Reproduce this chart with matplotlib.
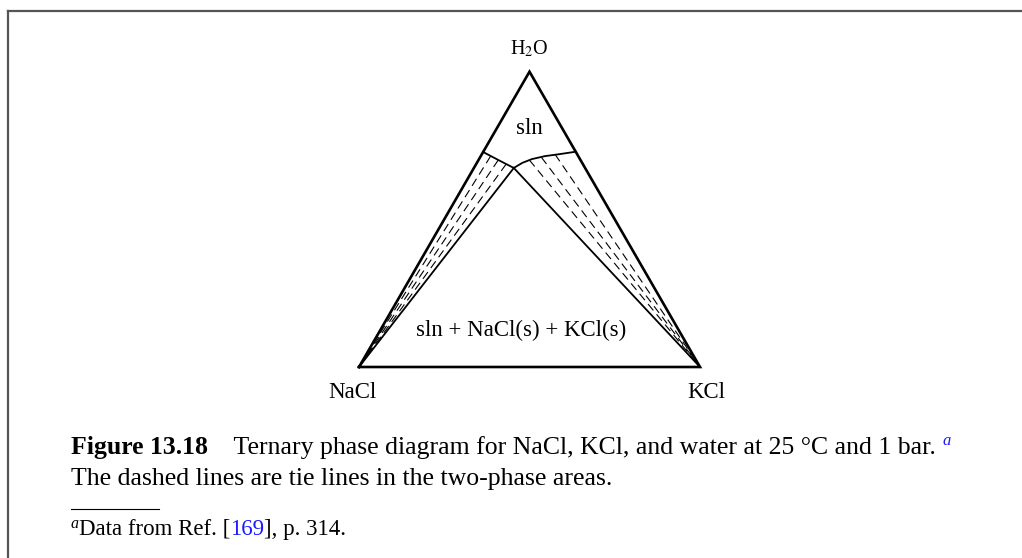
import numpy as np
import matplotlib
matplotlib.use('Agg')
import matplotlib.pyplot as plt
from matplotlib.lines import Line2D

plt.rcParams['font.family'] = ['Liberation Serif', 'DejaVu Serif']
plt.rcParams['mathtext.fontset'] = 'stix'

# mass fractions along the saturation curves (water is the remainder)
# NaCl-saturated solution: from binary NaCl-H2O to the invariant point
nacl_curve_wNaCl = [0.272, 0.241, 0.209]
nacl_curve_wKCl = [0.0, 0.058, 0.117]
# KCl-saturated solution: from the invariant point to binary KCl-H2O
kcl_curve_wNaCl = [0.209, 0.176, 0.141, 0.098, 0.050, 0.0]
kcl_curve_wKCl = [0.117, 0.133, 0.155, 0.188, 0.229, 0.271]
# liquid ends of the tie lines
tie_nacl_wNaCl = [0.257, 0.241, 0.225]
tie_nacl_wKCl = [0.029, 0.058, 0.088]
tie_kcl_wNaCl = [0.150, 0.110, 0.065]
tie_kcl_wKCl = [0.149, 0.180, 0.215]

vertex_labels = ['NaCl', 'KCl', r'H$_2$O']


def tern(wNaCl, wKCl):
    wNaCl = np.asarray(wNaCl, float)
    wKCl = np.asarray(wKCl, float)
    wH2O = 1 - wNaCl - wKCl
    return wKCl + wH2O / 2, wH2O * np.sqrt(3) / 2


W, H = 1022, 558
fig = plt.figure(figsize=(W / 100, H / 100), dpi=100)
ax = fig.add_axes([0, 0, 1, 1])
ax.axis('off')
# triangle side = 341 px, NaCl corner at (359, 367) px from top-left
s = 341.0
ax.set_xlim(-359 / s, (W - 359) / s)
ax.set_ylim(-(H - 367) / s, 367 / s)

# outer triangle
tx, ty = tern([1, 0, 0, 1], [0, 1, 0, 0])
ax.plot(tx, ty, color='black', lw=1.9, solid_joinstyle='miter')

# saturation curves
x, y = tern(nacl_curve_wNaCl, nacl_curve_wKCl)
ax.plot(x, y, color='black', lw=1.3)
x, y = tern(kcl_curve_wNaCl, kcl_curve_wKCl)
ax.plot(x, y, color='black', lw=1.3)

# three-phase triangle edges
ex, ey = tern(nacl_curve_wNaCl[-1], nacl_curve_wKCl[-1])
for wn, wk in [(1, 0), (0, 1)]:
    vx, vy = tern(wn, wk)
    ax.plot([ex, vx], [ey, vy], color='black', lw=1.3)

# tie lines
for wn, wk in zip(tie_nacl_wNaCl, tie_nacl_wKCl):
    lx, ly = tern(wn, wk)
    vx, vy = tern(1, 0)
    ax.plot([lx, vx], [ly, vy], color='black', lw=0.8, dashes=(7.5, 4.5))
for wn, wk in zip(tie_kcl_wNaCl, tie_kcl_wKCl):
    lx, ly = tern(wn, wk)
    vx, vy = tern(0, 1)
    ax.plot([lx, vx], [ly, vy], color='black', lw=0.8, dashes=(7.5, 4.5))

# labels
fs = 16.5
vx, vy = tern([1, 0, 0], [0, 1, 0])
ax.text(vx[0] - 0.02, vy[0] - 0.075, vertex_labels[0], fontsize=fs, ha='center', va='center')
ax.text(vx[1] + 0.018, vy[1] - 0.075, vertex_labels[1], fontsize=fs, ha='center', va='center')
ax.text(vx[2], vy[2] + 0.067, vertex_labels[2], fontsize=14.5, ha='center', va='center')
ax.text(0.5, 0.70, 'sln', fontsize=fs, ha='center', va='center')
ax.text(0.474, 0.108, 'sln + NaCl(s) + KCl(s)', fontsize=fs, ha='center', va='center')

# frame
fig.add_artist(Line2D([8 / W, 8 / W], [0, 1 - 11 / H], color='#555555', lw=1.6,
                      transform=fig.transFigure))
fig.add_artist(Line2D([8 / W, 1], [1 - 11 / H, 1 - 11 / H], color='#555555', lw=1.6,
                      transform=fig.transFigure))

renderer = fig.canvas.get_renderer()


def chain(x0, ypix, pieces):
    xp = x0
    for txt, kw in pieces:
        kw = dict(kw)
        dy = kw.pop('dy', 0)
        t = fig.text(xp / W, 1 - (ypix + dy) / H, txt, va='baseline', ha='left', **kw)
        bb = t.get_window_extent(renderer)
        xp = bb.x1
    return xp


cfs = 18.5
chain(71, 454, [('Figure 13.18', dict(fontsize=cfs, fontweight='bold')),
                ('    Ternary phase diagram for NaCl, KCl, and water at 25 \u00b0C and 1 bar. ',
                 dict(fontsize=cfs)),
                ('a', dict(fontsize=12, style='italic', color='#1a1aff', dy=-9))])
chain(71, 485, [('The dashed lines are tie lines in the two-phase areas.', dict(fontsize=cfs))])
fig.add_artist(Line2D([71 / W, 159 / W], [1 - 509 / H, 1 - 509 / H], color='black', lw=0.8,
                      transform=fig.transFigure))
ffs = 16.5
chain(71, 535, [('a', dict(fontsize=11.5, style='italic', dy=-7)),
                ('Data from Ref. [', dict(fontsize=ffs)),
                ('169', dict(fontsize=ffs, color='#1a1aff')),
                ('], p. 314.', dict(fontsize=ffs))])

fig.savefig('out.png', dpi=100)
